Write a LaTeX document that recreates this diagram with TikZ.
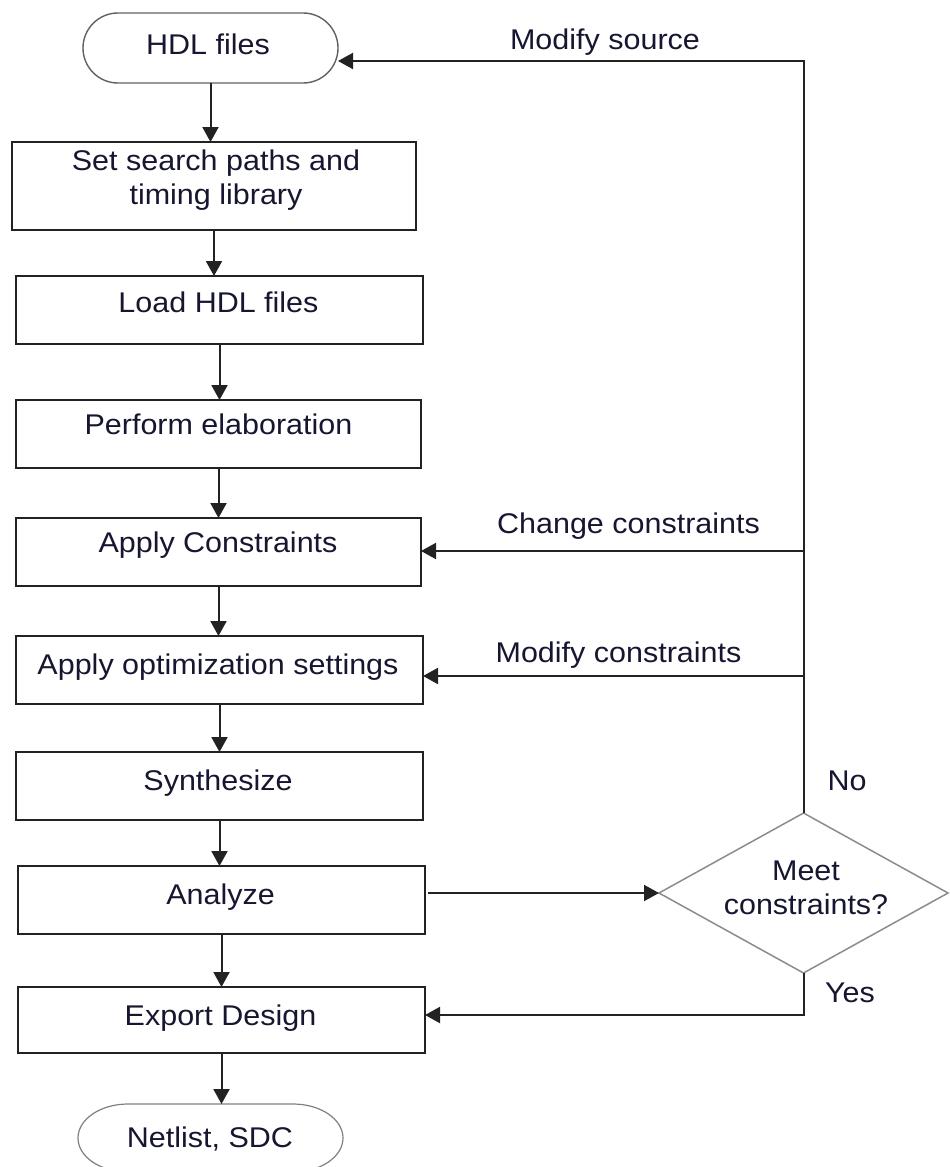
\documentclass[tikz,border=0pt]{standalone}
\usepackage{fontspec}
\setmainfont{Liberation Sans}[FakeStretch=1.07]
\usetikzlibrary{arrows.meta,shapes.geometric}
\definecolor{ink}{RGB}{22,22,48}
\definecolor{edge}{RGB}{34,34,34}
\begin{document}
\begin{tikzpicture}[x=1pt,y=-1pt,
  every node/.style={inner sep=0pt, outer sep=0pt},
  stepbox/.style={draw=edge, line width=2pt, rectangle},
  txt/.style={text=ink, font=\fontsize{28.5}{34}\selectfont, text height=21pt, text depth=6pt},
  mtxt/.style={text=ink, font=\fontsize{28.5}{34}\selectfont, align=center},
  flow/.style={draw=edge, line width=2pt, -{Triangle[length=15pt,width=16pt]}},
  termline/.style={draw=black!62, line width=1.4pt},
  decision/.style={diamond, draw=black!45, line width=1.5pt},
]
\useasboundingbox (0,0) rectangle (950,1167);
\fill[white] (0,0) rectangle (950,1167);

% terminators (outline drawn separately with elliptic ends)
\node[minimum width=255pt, minimum height=70pt] (hdl) at (210.5,48) {};
\draw[termline] ([xshift=35pt]hdl.north west)
  arc[start angle=90, end angle=270, x radius=35pt, y radius=35pt]
  -- ([xshift=-35pt]hdl.south east)
  arc[start angle=-90, end angle=90, x radius=35pt, y radius=35pt] -- cycle;
\node[minimum width=265pt, minimum height=68pt] (net) at (210.5,1138) {};
\draw[termline, draw=black!50, line width=1.2pt] ([xshift=50pt]net.north west)
  arc[start angle=90, end angle=270, x radius=50pt, y radius=34pt]
  -- ([xshift=-50pt]net.south east)
  arc[start angle=-90, end angle=90, x radius=50pt, y radius=34pt] -- cycle;

% process steps
\node[stepbox, minimum width=404pt, minimum height=88pt] (b1) at (214,186) {};
\node[stepbox, minimum width=407pt, minimum height=68pt] (b2) at (219.5,310) {};
\node[stepbox, minimum width=405pt, minimum height=68pt] (b3) at (218.5,434) {};
\node[stepbox, minimum width=405pt, minimum height=68pt] (b4) at (218.5,552) {};
\node[stepbox, minimum width=407pt, minimum height=68pt] (b5) at (219.5,670) {};
\node[stepbox, minimum width=407pt, minimum height=68pt] (b6) at (219.5,786) {};
\node[stepbox, minimum width=407pt, minimum height=68pt] (b7) at (221.5,900) {};
\node[stepbox, minimum width=407pt, minimum height=66pt] (b8) at (221.5,1020) {};

% decision
\node[decision, minimum width=289pt, minimum height=160pt] (dia) at (803.5,893) {};

% texts
\node[txt] (hdlT) at (208,46.5) {HDL files};
\node[mtxt] (b1T) at (216,180) {Set search paths and\\timing library};
\node[txt] (b2T) at (218.5,304.5) {Load HDL files};
\node[txt] (b3T) at (218.5,426.5) {Perform elaboration};
\node[txt] (b4T) at (218,544.5) {Apply Constraints};
\node[txt] (b5T) at (218,666.5) {Apply optimization settings};
\node[txt] (b6T) at (218,782.5) {Synthesize};
\node[txt] (b7T) at (220.5,896.5) {Analyze};
\node[txt] (b8T) at (220.5,1017.5) {Export Design};
\node[txt] (netT) at (210,1139.5) {Netlist, SDC};
\node[mtxt] (diaT) at (806,888) {Meet\\constraints?};

% main flow
\draw[flow] (hdl.south) -- (hdl.south |- b1.north);
\draw[flow] (b1.south) -- (b1.south |- b2.north);
\draw[flow] (b2.south) -- (b2.south |- b3.north);
\draw[flow] (b3.south) -- (b3.south |- b4.north);
\draw[flow] (b4.south) -- (b4.south |- b5.north);
\draw[flow] (b5.south) -- (b5.south |- b6.north);
\draw[flow] (b6.south) -- (b6.south |- b7.north);
\draw[flow] (b7.south) -- (b7.south |- b8.north);
\draw[flow] (b8.south) -- (b8.south |- net.north);

% decision and feedback loops
\draw[flow, shorten <=3pt] (b7.east |- dia.west) -- (dia.west);
\coordinate (top) at (802,61);
\coordinate (cc) at (803.5,551);
\coordinate (mc) at (803.5,676);
\coordinate (yc) at (808,1015);
\draw[flow] (dia.north) -- (dia.north |- top) -- (hdl.east |- top);
\draw[flow] (cc) -- (cc -| b4.east);
\draw[flow] (mc) -- (mc -| b5.east);
\draw[flow] (dia.south) -- (dia.south |- yc) -- (yc -| b8.east);

% branch labels
\node[txt] (lms) at (605,41.5) {Modify source};
\node[txt] (lcc) at (628.5,525.5) {Change constraints};
\node[txt] (lmc) at (618.5,654.5) {Modify constraints};
\node[txt] (lno) at (847,782.5) {No};
\node[txt] (lyes) at (850,994.5) {Yes};
\end{tikzpicture}
\end{document}
